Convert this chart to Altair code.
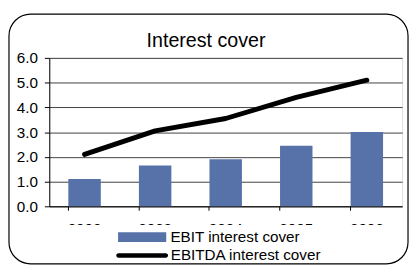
import altair as alt
import pandas as pd

years = ["2002", "2003", "2004", "2005", "2006"]
ebit = [1.1, 1.65, 1.9, 2.45, 3.0]
ebitda = [2.1, 3.05, 3.55, 4.4, 5.1]
y_ticks = [0, 1, 2, 3, 4, 5, 6]

bar_name = "EBIT interest cover"
line_name = "EBITDA interest cover"

df = pd.DataFrame({
    "year": years,
    "ebit": ebit,
    "ebitda": ebitda,
    "s1": [bar_name] * len(years),
    "s2": [line_name] * len(years),
})

FONT = "Liberation Sans"
W, H = 359, 151

x_axis = alt.Axis(
    title=None, labelAngle=0, bandPosition=0, tickSize=4, tickColor="black",
    domainColor="black", labelPadding=11.4, labelFontSize=15.5, labelFont=FONT,
    labelColor="black", grid=False, labelOverlap=False,
)
x_scale = alt.Scale(paddingInner=0.54, paddingOuter=0.27)
y_axis = alt.Axis(
    title=None, values=y_ticks, format=".1f", tickSize=5, tickColor="black",
    domainColor="black", labelPadding=7, labelFontSize=15.5, labelFont=FONT,
    labelColor="black", gridColor="#404040", gridWidth=1, labelOverlap=False,
)
y_scale = alt.Scale(domain=[0, 6], nice=False)

bars = alt.Chart(df).mark_bar().encode(
    x=alt.X("year:N", sort=years, scale=x_scale, axis=x_axis),
    y=alt.Y("ebit:Q", scale=y_scale, axis=y_axis),
    color=alt.Color(
        "s1:N",
        scale=alt.Scale(domain=[bar_name], range=["#5672a9"]),
        legend=alt.Legend(
            title=None, orient="none", legendX=70, legendY=157.8, padding=0,
            symbolType="M-1,-0.2H1V0.2H-1Z", symbolSize=2401, symbolStrokeWidth=0,
            labelFontSize=15.5, labelFont=FONT, labelColor="black", labelOffset=4.3,
        ),
    ),
)

capsule = ("M-0.915,-0.085H0.915A0.085,0.085,0,0,1,0.915,0.085"
           "H-0.915A0.085,0.085,0,0,1,-0.915,-0.085Z")

line = alt.Chart(df).mark_line(strokeWidth=5, strokeCap="round", strokeJoin="round").encode(
    x=alt.X("year:N", sort=years, scale=x_scale, axis=x_axis),
    y=alt.Y("ebitda:Q", scale=y_scale, axis=y_axis),
    stroke=alt.Stroke(
        "s2:N",
        scale=alt.Scale(domain=[line_name], range=["black"]),
        legend=alt.Legend(
            title=None, orient="none", legendX=68, legendY=174.6, padding=0,
            symbolType=capsule, symbolSize=2777, symbolStrokeWidth=0,
            symbolFillColor="black",
            labelFontSize=15.5, labelFont=FONT, labelColor="black", labelOffset=2.6,
        ),
    ),
)

one = pd.DataFrame({"k": [0]})

cover = alt.Chart(one).mark_rect(fill="white", strokeWidth=0).encode(
    x=alt.value(-30), x2=alt.value(W + 3), y=alt.value(170), y2=alt.value(205)
)

frame = alt.Chart(one).mark_rect(
    fillOpacity=0, fill="white", stroke="black", strokeWidth=1.2, cornerRadius=22
).encode(
    x=alt.value(-41), x2=alt.value(W + 6), y=alt.value(-44.5), y2=alt.value(H + 58.5)
)

chart = alt.layer(bars, line, cover, frame).resolve_scale(
    color="independent", stroke="independent"
).properties(
    width=W,
    height=H,
    padding={"left": 42, "top": 48.5, "right": 7, "bottom": 60.5},
    autosize=alt.AutoSizeParams(type="none"),
    title=alt.TitleParams(
        "Interest cover", fontSize=20, font=FONT, fontWeight="normal", color="black",
        anchor="middle", dx=-20, baseline="alphabetic", offset=-54,
    ),
).configure_view(stroke="#808080", strokeWidth=1).configure(background="white")

chart.save("out.html", embed_options={"renderer": "svg", "actions": False})
